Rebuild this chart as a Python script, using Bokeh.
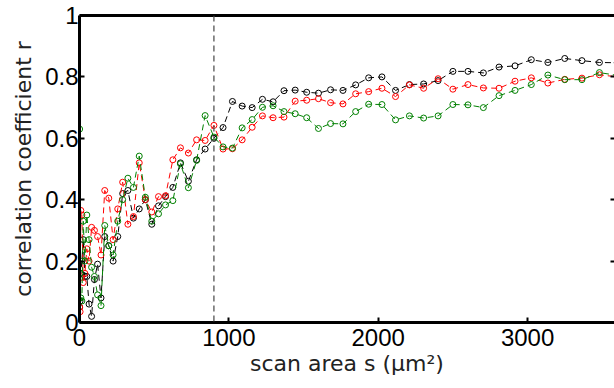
from bokeh.plotting import figure
from bokeh.models import Range1d, Span, LinearAxis, FixedTicker
from bokeh.embed import file_html
from bokeh.resources import INLINE

# scan area s (um^2): squares of side length 1..60 um
scan_area = [1, 4, 9, 16, 25, 36, 49, 64, 81, 100, 121, 144, 169, 196, 225, 256, 289, 324,
             361, 400, 441, 484, 529, 576, 625, 676, 729, 784, 841, 900, 961, 1024, 1089,
             1156, 1225, 1296, 1369, 1444, 1521, 1600, 1681, 1764, 1849, 1936, 2025, 2116,
             2209, 2304, 2401, 2500, 2601, 2704, 2809, 2916, 3025, 3136, 3249, 3364, 3481, 3600]

r_black = [0.05, 0.07, 0.16, 0.20, 0.27, 0.15, 0.15, 0.06, 0.02, 0.14, 0.19, 0.08, 0.28, 0.25,
           0.20, 0.28, 0.42, 0.43, 0.34, 0.37, 0.40, 0.32, 0.38, 0.41, 0.44, 0.52, 0.46, 0.53,
           0.565, 0.60, 0.635, 0.72, 0.705, 0.70, 0.727, 0.719, 0.755, 0.757, 0.750, 0.747,
           0.758, 0.756, 0.774, 0.797, 0.80, 0.756, 0.775, 0.777, 0.788, 0.818, 0.818, 0.813,
           0.832, 0.836, 0.856, 0.847, 0.860, 0.853, 0.847, 0.846]

r_red = [0.05, 0.035, 0.365, 0.35, 0.13, 0.16, 0.24, 0.20, 0.31, 0.30, 0.28, 0.22, 0.43, 0.405,
         0.27, 0.37, 0.457, 0.32, 0.345, 0.52, 0.40, 0.36, 0.41, 0.413, 0.53, 0.569, 0.552,
         0.595, 0.593, 0.642, 0.565, 0.566, 0.595, 0.636, 0.673, 0.667, 0.669, 0.721, 0.724,
         0.729, 0.716, 0.712, 0.745, 0.752, 0.763, 0.736, 0.774, 0.763, 0.794, 0.760, 0.775,
         0.764, 0.763, 0.786, 0.797, 0.780, 0.792, 0.796, 0.807, 0.80]

r_green = [0.63, 0.16, 0.08, 0.07, 0.33, 0.20, 0.35, 0.27, 0.18, 0.15, 0.09, 0.055, 0.316, 0.25,
           0.22, 0.33, 0.40, 0.47, 0.44, 0.542, 0.408, 0.33, 0.354, 0.383, 0.397, 0.517, 0.439,
           0.528, 0.674, 0.604, 0.572, 0.568, 0.634, 0.661, 0.701, 0.706, 0.687, 0.680, 0.667,
           0.632, 0.648, 0.647, 0.687, 0.711, 0.710, 0.660, 0.673, 0.666, 0.673, 0.710, 0.709,
           0.700, 0.739, 0.756, 0.775, 0.806, 0.791, 0.791, 0.814, 0.805]

threshold_area = 900
x_ticks = [0, 1000, 2000, 3000]
y_ticks = [0, 0.2, 0.4, 0.6, 0.8, 1]
y_tick_labels = ["0", "0.2", "0.4", "0.6", "0.8", "1"]

p = figure(width=614, height=388, output_backend="svg", toolbar_location=None,
           x_range=Range1d(0, 3582), y_range=Range1d(0, 1),
           min_border_left=79, min_border_right=0, min_border_top=15, min_border_bottom=66)
p.outline_line_color = None
p.xgrid.visible = False
p.ygrid.visible = False
p.background_fill_color = "white"
p.border_fill_color = "white"

tick_font = "Liberation Sans"
for ax in (p.xaxis[0], p.yaxis[0]):
    ax.axis_line_width = 3
    ax.axis_line_color = "black"
    ax.major_tick_in = 5
    ax.major_tick_out = 0
    ax.major_tick_line_width = 2
    ax.minor_tick_line_color = None
    ax.major_label_text_font = tick_font
    ax.major_label_text_font_size = "24px"
    ax.major_label_text_color = "black"
    ax.axis_label_text_font = "DejaVu Sans"
    ax.axis_label_text_font_style = "normal"
    ax.axis_label_text_font_size = "22px"
    ax.axis_label_text_color = "#222222"

p.xaxis[0].ticker = FixedTicker(ticks=x_ticks)
p.xaxis[0].major_label_standoff = 6
p.xaxis[0].axis_label = "scan area s (μm²)"
p.xaxis[0].axis_label_standoff = 2

p.yaxis[0].ticker = FixedTicker(ticks=y_ticks)
p.yaxis[0].major_label_overrides = {t: l for t, l in zip(y_ticks, y_tick_labels)}
p.yaxis[0].major_label_standoff = 1
p.yaxis[0].axis_label = "correlation coefficient r"
p.yaxis[0].axis_label_standoff = 6

top = LinearAxis(ticker=FixedTicker(ticks=[]), axis_line_width=3, axis_line_color="black",
                 major_tick_line_color=None, minor_tick_line_color=None,
                 major_label_text_font_size="0px", major_label_text_color=None)
p.add_layout(top, "above")

right = LinearAxis(ticker=FixedTicker(ticks=y_ticks), axis_line_color=None,
                   major_tick_in=4, major_tick_out=0, major_tick_line_width=2,
                   major_tick_line_color="black", minor_tick_line_color=None,
                   major_label_text_font_size="0px", major_label_text_color=None,
                   major_label_standoff=0)
p.add_layout(right, "right")

p.add_layout(Span(location=threshold_area, dimension="height", line_color="#444444",
                  line_width=1.2, line_dash="6 4"))

for ys, col in ((r_black, "black"), (r_red, "#ff0000"), (r_green, "#008000")):
    p.line(scan_area, ys, line_color=col, line_width=1, line_dash="6 4")
    p.scatter(scan_area, ys, marker="circle", size=6, fill_color=None,
              line_color=col, line_width=1)

open("out.html", "w").write(file_html(p, INLINE))
